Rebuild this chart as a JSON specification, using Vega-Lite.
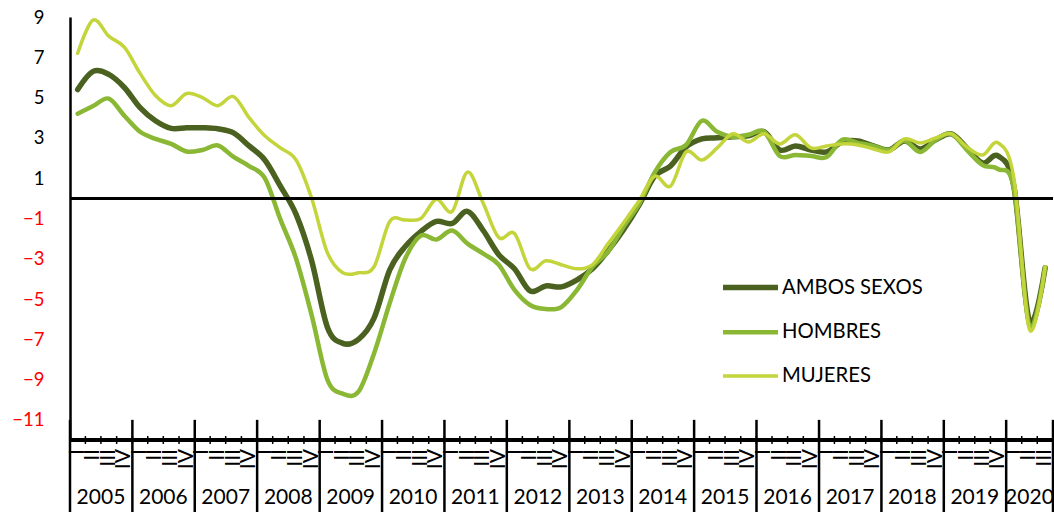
{
  "$schema": "https://vega.github.io/schema/vega-lite/v6.json",
  "width": 983,
  "height": 423,
  "autosize": {"type": "none"},
  "padding": {"left": 70, "top": 17, "right": 1, "bottom": 72},
  "background": "white",
  "config": {"view": {"stroke": null}, "font": "Lato"},
  "data": {
    "format": {"parse": {"fecha": "date"}},
    "values": [
      {"fecha": "2005-02-15", "anio": "2005", "trimestre": "I", "ambos": 5.4, "hombres": 4.2, "mujeres": 7.2},
      {"fecha": "2005-05-16", "anio": "2005", "trimestre": "II", "ambos": 6.3, "hombres": 4.58, "mujeres": 8.85},
      {"fecha": "2005-08-16", "anio": "2005", "trimestre": "III", "ambos": 6.15, "hombres": 4.95, "mujeres": 8.05},
      {"fecha": "2005-11-15", "anio": "2005", "trimestre": "IV", "ambos": 5.5, "hombres": 4.1, "mujeres": 7.5},
      {"fecha": "2006-02-15", "anio": "2006", "trimestre": "I", "ambos": 4.5, "hombres": 3.3, "mujeres": 6.2},
      {"fecha": "2006-05-16", "anio": "2006", "trimestre": "II", "ambos": 3.85, "hombres": 2.95, "mujeres": 5.1},
      {"fecha": "2006-08-16", "anio": "2006", "trimestre": "III", "ambos": 3.47, "hombres": 2.7, "mujeres": 4.6},
      {"fecha": "2006-11-15", "anio": "2006", "trimestre": "IV", "ambos": 3.5, "hombres": 2.32, "mujeres": 5.2},
      {"fecha": "2007-02-15", "anio": "2007", "trimestre": "I", "ambos": 3.5, "hombres": 2.4, "mujeres": 5.0},
      {"fecha": "2007-05-16", "anio": "2007", "trimestre": "II", "ambos": 3.45, "hombres": 2.62, "mujeres": 4.6},
      {"fecha": "2007-08-16", "anio": "2007", "trimestre": "III", "ambos": 3.25, "hombres": 2.05, "mujeres": 5.05},
      {"fecha": "2007-11-15", "anio": "2007", "trimestre": "IV", "ambos": 2.6, "hombres": 1.6, "mujeres": 4.0},
      {"fecha": "2008-02-15", "anio": "2008", "trimestre": "I", "ambos": 1.9, "hombres": 1.0, "mujeres": 3.1},
      {"fecha": "2008-05-16", "anio": "2008", "trimestre": "II", "ambos": 0.6, "hombres": -1.05, "mujeres": 2.5},
      {"fecha": "2008-08-16", "anio": "2008", "trimestre": "III", "ambos": -0.8, "hombres": -3.0, "mujeres": 1.9},
      {"fecha": "2008-11-15", "anio": "2008", "trimestre": "IV", "ambos": -3.1, "hombres": -5.8, "mujeres": 0.0},
      {"fecha": "2009-02-15", "anio": "2009", "trimestre": "I", "ambos": -6.4, "hombres": -9.0, "mujeres": -2.7},
      {"fecha": "2009-05-16", "anio": "2009", "trimestre": "II", "ambos": -7.2, "hombres": -9.7, "mujeres": -3.7},
      {"fecha": "2009-08-16", "anio": "2009", "trimestre": "III", "ambos": -7.0, "hombres": -9.6, "mujeres": -3.7},
      {"fecha": "2009-11-15", "anio": "2009", "trimestre": "IV", "ambos": -5.95, "hombres": -7.7, "mujeres": -3.4},
      {"fecha": "2010-02-15", "anio": "2010", "trimestre": "I", "ambos": -3.55, "hombres": -5.2, "mujeres": -1.15},
      {"fecha": "2010-05-16", "anio": "2010", "trimestre": "II", "ambos": -2.4, "hombres": -3.0, "mujeres": -1.08},
      {"fecha": "2010-08-16", "anio": "2010", "trimestre": "III", "ambos": -1.65, "hombres": -1.85, "mujeres": -1.0},
      {"fecha": "2010-11-15", "anio": "2010", "trimestre": "IV", "ambos": -1.15, "hombres": -2.05, "mujeres": -0.05},
      {"fecha": "2011-02-15", "anio": "2011", "trimestre": "I", "ambos": -1.25, "hombres": -1.6, "mujeres": -0.65},
      {"fecha": "2011-05-16", "anio": "2011", "trimestre": "II", "ambos": -0.65, "hombres": -2.25, "mujeres": 1.3},
      {"fecha": "2011-08-16", "anio": "2011", "trimestre": "III", "ambos": -1.6, "hombres": -2.75, "mujeres": -0.25},
      {"fecha": "2011-11-15", "anio": "2011", "trimestre": "IV", "ambos": -2.8, "hombres": -3.3, "mujeres": -1.95},
      {"fecha": "2012-02-15", "anio": "2012", "trimestre": "I", "ambos": -3.5, "hombres": -4.55, "mujeres": -1.75},
      {"fecha": "2012-05-16", "anio": "2012", "trimestre": "II", "ambos": -4.6, "hombres": -5.3, "mujeres": -3.5},
      {"fecha": "2012-08-16", "anio": "2012", "trimestre": "III", "ambos": -4.35, "hombres": -5.5, "mujeres": -3.1},
      {"fecha": "2012-11-15", "anio": "2012", "trimestre": "IV", "ambos": -4.4, "hombres": -5.4, "mujeres": -3.3},
      {"fecha": "2013-02-15", "anio": "2013", "trimestre": "I", "ambos": -4.05, "hombres": -4.55, "mujeres": -3.5},
      {"fecha": "2013-05-16", "anio": "2013", "trimestre": "II", "ambos": -3.5, "hombres": -3.4, "mujeres": -3.3},
      {"fecha": "2013-08-16", "anio": "2013", "trimestre": "III", "ambos": -2.6, "hombres": -2.65, "mujeres": -2.25},
      {"fecha": "2013-11-15", "anio": "2013", "trimestre": "IV", "ambos": -1.55, "hombres": -1.4, "mujeres": -1.2},
      {"fecha": "2014-02-15", "anio": "2014", "trimestre": "I", "ambos": -0.3, "hombres": -0.25, "mujeres": -0.1},
      {"fecha": "2014-05-16", "anio": "2014", "trimestre": "II", "ambos": 1.1, "hombres": 1.3, "mujeres": 1.1},
      {"fecha": "2014-08-16", "anio": "2014", "trimestre": "III", "ambos": 1.6, "hombres": 2.3, "mujeres": 0.6},
      {"fecha": "2014-11-15", "anio": "2014", "trimestre": "IV", "ambos": 2.55, "hombres": 2.65, "mujeres": 2.3},
      {"fecha": "2015-02-15", "anio": "2015", "trimestre": "I", "ambos": 2.95, "hombres": 3.85, "mujeres": 1.9},
      {"fecha": "2015-05-16", "anio": "2015", "trimestre": "II", "ambos": 3.0, "hombres": 3.3, "mujeres": 2.5},
      {"fecha": "2015-08-16", "anio": "2015", "trimestre": "III", "ambos": 3.05, "hombres": 3.05, "mujeres": 3.2},
      {"fecha": "2015-11-15", "anio": "2015", "trimestre": "IV", "ambos": 3.1, "hombres": 3.15, "mujeres": 2.8},
      {"fecha": "2016-02-15", "anio": "2016", "trimestre": "I", "ambos": 3.3, "hombres": 3.3, "mujeres": 3.2},
      {"fecha": "2016-05-16", "anio": "2016", "trimestre": "II", "ambos": 2.4, "hombres": 2.1, "mujeres": 2.7},
      {"fecha": "2016-08-16", "anio": "2016", "trimestre": "III", "ambos": 2.6, "hombres": 2.15, "mujeres": 3.15},
      {"fecha": "2016-11-15", "anio": "2016", "trimestre": "IV", "ambos": 2.4, "hombres": 2.1, "mujeres": 2.5},
      {"fecha": "2017-02-15", "anio": "2017", "trimestre": "I", "ambos": 2.3, "hombres": 2.05, "mujeres": 2.6},
      {"fecha": "2017-05-16", "anio": "2017", "trimestre": "II", "ambos": 2.8, "hombres": 2.9, "mujeres": 2.7},
      {"fecha": "2017-08-16", "anio": "2017", "trimestre": "III", "ambos": 2.85, "hombres": 2.75, "mujeres": 2.65},
      {"fecha": "2017-11-15", "anio": "2017", "trimestre": "IV", "ambos": 2.6, "hombres": 2.6, "mujeres": 2.45},
      {"fecha": "2018-02-15", "anio": "2018", "trimestre": "I", "ambos": 2.4, "hombres": 2.4, "mujeres": 2.3},
      {"fecha": "2018-05-16", "anio": "2018", "trimestre": "II", "ambos": 2.85, "hombres": 2.85, "mujeres": 2.95},
      {"fecha": "2018-08-16", "anio": "2018", "trimestre": "III", "ambos": 2.45, "hombres": 2.3, "mujeres": 2.75},
      {"fecha": "2018-11-15", "anio": "2018", "trimestre": "IV", "ambos": 2.9, "hombres": 2.9, "mujeres": 3.0},
      {"fecha": "2019-02-15", "anio": "2019", "trimestre": "I", "ambos": 3.2, "hombres": 3.2, "mujeres": 3.2},
      {"fecha": "2019-05-16", "anio": "2019", "trimestre": "II", "ambos": 2.5, "hombres": 2.4, "mujeres": 2.55},
      {"fecha": "2019-08-16", "anio": "2019", "trimestre": "III", "ambos": 1.75, "hombres": 1.65, "mujeres": 2.15},
      {"fecha": "2019-11-15", "anio": "2019", "trimestre": "IV", "ambos": 2.1, "hombres": 1.45, "mujeres": 2.75},
      {"fecha": "2020-02-15", "anio": "2020", "trimestre": "I", "ambos": 0.6, "hombres": 0.5, "mujeres": 1.0},
      {"fecha": "2020-05-16", "anio": "2020", "trimestre": "II", "ambos": -6.1, "hombres": -6.35, "mujeres": -6.5},
      {"fecha": "2020-08-16", "anio": "2020", "trimestre": "III", "ambos": -3.45, "hombres": -3.45, "mujeres": -3.4}
    ]
  },
  "layer": [
    {
      "transform": [{"fold": ["ambos", "hombres", "mujeres"], "as": ["serie", "valor"]}],
      "mark": {"type": "line", "interpolate": "cardinal", "strokeCap": "round", "strokeJoin": "round"},
      "encoding": {
        "x": {
          "field": "fecha", "type": "temporal",
          "scale": {"type": "utc", "domain": [{"year": 2005, "month": 1, "date": 1, "utc": true}, {"year": 2020, "month": 10, "date": 1, "utc": true}], "nice": false},
          "axis": null
        },
        "y": {
          "field": "valor", "type": "quantitative",
          "scale": {"domain": [-12, 9], "nice": false, "zero": false},
          "axis": {"values": [-11, -9, -7, -5, -3, -1, 1, 3, 5, 7, 9], "title": null, "ticks": false, "grid": false, "domainColor": "black", "domainWidth": 2.5, "labelFontSize": 18.5, "labelFont": "Lato", "labelPadding": 26, "labelColor": {"condition": {"test": "datum.value < 0", "value": "#ff0000"}, "value": "black"}}
        },
        "color": {
          "field": "serie", "type": "nominal",
          "scale": {"domain": ["ambos", "hombres", "mujeres"], "range": ["#4a6120", "#8ab834", "#c4d43b"]},
          "legend": {"title": null, "orient": "none", "legendX": 650, "legendY": 240, "symbolType": "stroke", "symbolSize": 3025, "labelFontSize": 20.3, "labelFont": "Lato", "labelColor": "black", "labelOffset": 1, "rowPadding": 3.3, "labelExpr": "datum.label == 'ambos' ? 'AMBOS SEXOS' : datum.label == 'hombres' ? 'HOMBRES' : 'MUJERES'"}
        },
        "strokeWidth": {
          "field": "serie", "type": "nominal",
          "scale": {"domain": ["ambos", "hombres", "mujeres"], "range": [5.5, 3.5, 3.5]},
          "legend": {"title": null, "orient": "none", "legendX": 650, "legendY": 240, "symbolType": "stroke", "symbolSize": 3025, "labelFontSize": 20.3, "labelFont": "Lato", "labelColor": "black", "labelOffset": 1, "rowPadding": 3.3, "labelExpr": "datum.label == 'ambos' ? 'AMBOS SEXOS' : datum.label == 'hombres' ? 'HOMBRES' : 'MUJERES'"}
        }
      }
    },
    {"mark": {"type": "rule", "color": "black", "strokeWidth": 2}, "encoding": {"y": {"datum": 0}}},
    {"mark": {"type": "rule", "color": "black", "strokeWidth": 2.5}, "encoding": {"y": {"datum": -12}}},
    {
      "mark": {"type": "rule", "color": "black", "strokeWidth": 1.5, "clip": false},
      "encoding": {
        "x": {"field": "fecha", "timeUnit": "utcyearquarter", "type": "temporal"},
        "y": {"datum": -11.8},
        "y2": {"datum": -12.2}
      }
    },
    {
      "transform": [{"filter": "datum.trimestre == 'I'"}],
      "mark": {"type": "rule", "color": "black", "strokeWidth": 2.5, "clip": false},
      "encoding": {
        "x": {"field": "fecha", "timeUnit": "utcyear", "type": "temporal"},
        "y": {"datum": -11},
        "y2": {"datum": -15.7}
      }
    },
    {
      "data": {"values": [{}]},
      "mark": {"type": "rule", "color": "black", "strokeWidth": 2.5, "clip": false},
      "encoding": {
        "x": {"datum": {"year": 2020, "month": 10, "date": 1, "utc": true}, "type": "temporal"},
        "y": {"datum": -11},
        "y2": {"datum": -15.7}
      }
    },
    {
      "mark": {"type": "text", "angle": 270, "align": "right", "baseline": "middle", "fontSize": 21, "font": "Lato", "color": "black", "clip": false},
      "encoding": {
        "x": {"field": "fecha", "type": "temporal"},
        "y": {"datum": -12.45},
        "text": {"field": "trimestre"}
      }
    },
    {
      "transform": [{"aggregate": [{"op": "mean", "field": "fecha", "as": "centro"}], "groupby": ["anio"]}],
      "mark": {"type": "text", "align": "center", "baseline": "middle", "fontSize": 21, "font": "Lato", "color": "black", "clip": false},
      "encoding": {
        "x": {"field": "centro", "type": "temporal"},
        "y": {"datum": -14.88},
        "text": {"field": "anio"}
      }
    }
  ]
}
